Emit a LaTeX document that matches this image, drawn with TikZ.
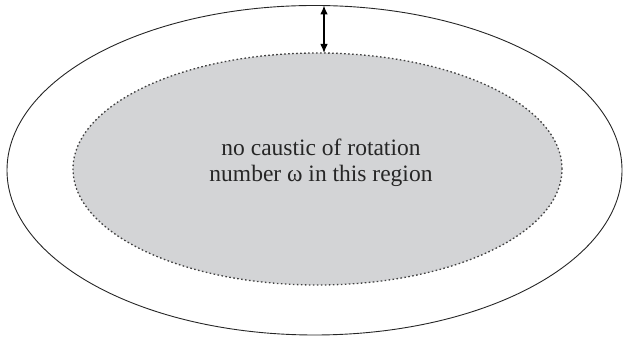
\documentclass[tikz,border=0pt]{standalone}
\usepackage{fontspec}
\setmainfont{Liberation Serif}
\usetikzlibrary{arrows.meta,shapes.geometric,calc}
\definecolor{regiongray}{RGB}{211,212,214}
\tikzset{
  boundary/.style={draw=black!85, line width=0.9pt, shape=ellipse, inner sep=0pt, outer sep=0pt},
  noregion/.style={draw=black!75, fill=regiongray, line width=1.3pt, dash pattern=on 1.6pt off 2.4pt,
    shape=ellipse, inner sep=0pt, outer sep=0pt},
  regiontext/.style={align=center, font=\fontsize{23.5}{26.5}\selectfont, text=black!85}
}

\begin{document}
\begin{tikzpicture}[x=1pt, y=1pt, line width=0.9pt, >={Latex[length=9pt,width=7.5pt]}]
  \useasboundingbox (0,0) rectangle (623,339);
  % ---------------------------------------------------------------- billiard table
  \node[boundary, minimum width=615pt, minimum height=329.5pt] (outer) at (314.5,168.75) {};
  % ---------------------------------------------------------------- caustic-free region
  \node[noregion, minimum width=489pt, minimum height=232pt] (inner) at (317.5,170) {};
  \node[regiontext] (caption) at ($(inner.center)+(3.5,6)$) {no caustic of rotation\\number ω in this region};
  % gap between the two curves
  \coordinate (gapx) at (324,0);
  \draw[<->, line width=1.1pt] (outer.north -| gapx) -- (inner.north -| gapx);
\end{tikzpicture}
\end{document}
